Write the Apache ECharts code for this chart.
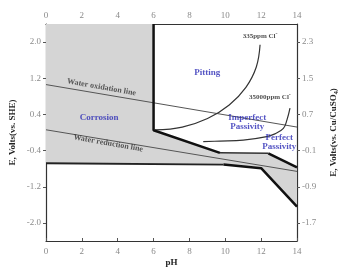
<!DOCTYPE html>
<html>
<head>
<meta charset="utf-8">
<script src="https://cdn.jsdelivr.net/npm/echarts@6/dist/echarts.min.js"></script>
<style>
  html, body { margin: 0; padding: 0; background: #fff; }
  #chart { width: 341px; height: 267px; }
</style>
</head>
<body>
<div id="chart"></div>
<script>
const phTicks = [0, 2, 4, 6, 8, 10, 12, 14];
const sheTicks = [-2.0, -1.2, -0.4, 0.4, 1.2, 2.0];
const cseTicks = [-1.7, -0.9, -0.1, 0.7, 1.5, 2.3];

// shaded corrosion / unstable area (pH, E vs SHE)
const shadedRegion = [
  [0, 2.4], [6, 2.4], [6, 0.05], [9.7, -0.45], [12.4, -0.46], [14, -0.77],
  [14, -1.64], [12, -0.79], [9.9, -0.71], [0, -0.68],
];
const passiveTop = [[6, 2.4], [6, 0.05], [9.7, -0.45]];
const passiveFlat = [[9.7, -0.45], [12.4, -0.46]];
const passiveRight = [[12.4, -0.46], [14, -0.77]];
const lowerFlat = [[0, -0.68], [9.9, -0.71]];
const lowerRight = [[9.9, -0.71], [12, -0.79], [14, -1.64]];
const waterOxidation = [[0, 1.06], [14, 0.12]];
const waterReduction = [[0, 0.06], [14, -0.86]];
const curve335 = [
  [11.94, 1.94], [11.73, 1.45], [11.15, 1.0], [10.22, 0.61],
  [9.01, 0.31], [7.6, 0.12], [6.08, 0.056],
];
const curve35000 = [
  [13.61, 0.54], [13.44, 0.28], [13.24, 0.09], [12.77, -0.03],
  [12.31, -0.09], [11.0, -0.17], [9.7, -0.19], [8.77, -0.2],
];

const regionLabels = [
  [2.96, 0.32, "Corrosion"],
  [9.0, 1.33, "Pitting"],
  [11.23, 0.22, "Imperfect\nPassivity"],
  [13.01, -0.22, "Perfect\nPassivity"],
];
const chlorideLabels = [
  [11.94, 2.14, "335ppm Cl{sup|-}"],
  [12.49, 0.79, "35000ppm Cl{sup|-}"],
];
const lineLabels = [
  [3.1, 1.0, "Water oxidation line"],
  [3.47, -0.24, "Water reduction line"],
];

const serif = '"Liberation Serif", "DejaVu Serif", serif';
const tickGray = "#8a8a8a";

const lineSeries = (data, width, color) => ({
  type: "line",
  data,
  symbol: "none",
  silent: true,
  lineStyle: { width, color },
  z: 3,
});

const chart = echarts.init(document.getElementById("chart"), null, { renderer: "canvas" });

chart.setOption({
  animation: false,
  backgroundColor: "#fff",
  grid: { left: 46, right: 44, top: 24, bottom: 26, outerBoundsMode: "none" },
  xAxis: [
    {
      type: "value",
      position: "bottom",
      min: 0,
      max: 14,
      interval: 2,
      name: "pH",
      nameLocation: "middle",
      nameGap: 17,
      nameMoveOverlap: false,
      nameTextStyle: { fontFamily: serif, fontWeight: "bold", fontSize: 9, color: "#222" },
      axisLine: { onZero: false, lineStyle: { color: "#333", width: 1.2 } },
      axisTick: { inside: true, length: 3, lineStyle: { color: "#555" } },
      axisLabel: { fontFamily: serif, fontSize: 9, color: tickGray, margin: 6 },
      splitLine: { show: false },
    },
    {
      type: "value",
      position: "top",
      min: 0,
      max: 14,
      interval: 2,
      axisLine: { onZero: false, lineStyle: { color: "#333", width: 1.2 } },
      axisTick: { show: false },
      axisLabel: { fontFamily: serif, fontSize: 9, color: tickGray, margin: 4 },
      splitLine: { show: false },
    },
  ],
  yAxis: [
    {
      type: "value",
      position: "left",
      min: -2.4,
      max: 2.4,
      name: "E, Volts(vs. SHE)",
      nameLocation: "middle",
      nameRotate: 90,
      nameGap: 29,
      nameMoveOverlap: false,
      nameTextStyle: { fontFamily: serif, fontWeight: "bold", fontSize: 9, color: "#222" },
      axisLine: { show: true, onZero: false, lineStyle: { color: "#333", width: 1.2 } },
      axisTick: { show: true, length: 3, customValues: sheTicks, lineStyle: { color: "#555" } },
      axisLabel: {
        fontFamily: serif, fontSize: 9, color: tickGray, margin: 5,
        customValues: sheTicks,
        formatter: (v) => v.toFixed(1),
      },
      splitLine: { show: false },
    },
    {
      type: "value",
      position: "right",
      min: -2.1,
      max: 2.7,
      name: "E, Volts(vs. Cu/CuSO{sub|4})",
      nameLocation: "middle",
      nameRotate: 90,
      nameGap: 32,
      nameMoveOverlap: false,
      nameTextStyle: {
        fontFamily: serif, fontWeight: "bold", fontSize: 9, color: "#222",
        rich: { sub: { fontFamily: serif, fontWeight: "bold", fontSize: 6, color: "#222", verticalAlign: "bottom", padding: [4, 0, 0, 0] } },
      },
      axisLine: { show: true, onZero: false, lineStyle: { color: "#333", width: 1.2 } },
      axisTick: { show: true, length: 3, customValues: cseTicks, lineStyle: { color: "#555" } },
      axisLabel: {
        fontFamily: serif, fontSize: 9, color: tickGray, margin: 5,
        customValues: cseTicks,
        formatter: (v) => v.toFixed(1),
      },
      splitLine: { show: false },
    },
  ],
  series: [
    {
      type: "custom",
      silent: true,
      z: 1,
      data: [0],
      renderItem: (params, api) => ({
        type: "polygon",
        shape: { points: shadedRegion.map((p) => api.coord(p)) },
        style: { fill: "#d5d5d5" },
      }),
    },
    lineSeries(waterOxidation, 1, "#555"),
    lineSeries(waterReduction, 1, "#555"),
    { ...lineSeries(curve335, 1.2, "#333"), smooth: 0.4 },
    { ...lineSeries(curve35000, 1.2, "#333"), smooth: 0.4 },
    lineSeries(passiveTop, 2.5, "#111"),
    lineSeries(passiveFlat, 1.5, "#333"),
    lineSeries(passiveRight, 2.5, "#111"),
    lineSeries(lowerFlat, 1.8, "#222"),
    lineSeries(lowerRight, 2.5, "#111"),
    {
      type: "scatter",
      silent: true,
      symbolSize: 0,
      z: 5,
      data: regionLabels.map(([x, y, t]) => ({ value: [x, y], name: t })),
      label: {
        show: true,
        position: "inside",
        formatter: (p) => p.name,
        fontFamily: serif,
        fontWeight: "bold",
        fontSize: 9,
        lineHeight: 9,
        color: "#2b2bb5",
        align: "center",
      },
    },
    {
      type: "scatter",
      silent: true,
      symbolSize: 0,
      z: 5,
      data: chlorideLabels.map(([x, y, t]) => ({ value: [x, y], name: t })),
      label: {
        show: true,
        position: "inside",
        formatter: (p) => p.name,
        fontFamily: serif,
        fontWeight: "bold",
        fontSize: 7,
        color: "#222",
        rich: { sup: { fontFamily: serif, fontWeight: "bold", fontSize: 6, color: "#222", verticalAlign: "top", padding: [0, 0, 4, 0] } },
      },
    },
    {
      type: "scatter",
      silent: true,
      symbolSize: 0,
      z: 5,
      data: lineLabels.map(([x, y, t]) => ({ value: [x, y], name: t })),
      label: {
        show: true,
        position: "inside",
        rotate: -10,
        formatter: (p) => p.name,
        fontFamily: serif,
        fontWeight: "bold",
        fontSize: 8,
        color: "#333",
      },
    },
  ],
});
</script>
</body>
</html>
